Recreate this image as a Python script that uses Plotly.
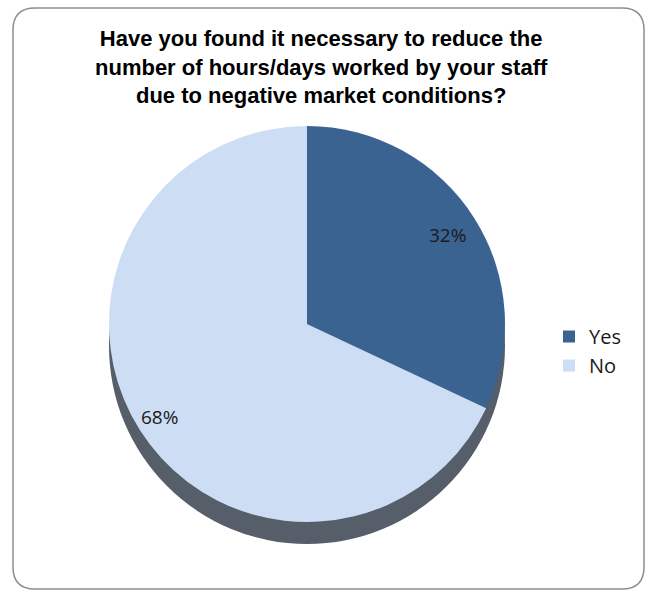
import math
import plotly.graph_objects as go

# Survey answers
labels = ["Yes", "No"]
shares = [32, 68]
colors = ["#3A6392", "#CCDDF4"]

title_lines = [
    "Have you found it necessary to reduce the",
    "number of hours/days worked by your staff",
    "due to negative market conditions?",
]

W, H = 645, 590

# Pie geometry in pixels
cx, cy, r = 307, 324, 198
depth = 22


def px(x):
    return x / W


def py(y):
    return 1 - y / H


fig = go.Figure()

fig.add_trace(go.Pie(
    labels=labels,
    values=shares,
    sort=False,
    direction="clockwise",
    rotation=0,
    marker=dict(colors=colors, line=dict(width=0)),
    textinfo="none",
    hoverinfo="label+percent",
    domain=dict(x=[px(cx - r), px(cx + r)], y=[py(cy + r), py(cy - r)]),
))

# Side wall of the tilted disc
fig.add_shape(
    type="circle", xref="paper", yref="paper", layer="below",
    x0=px(cx - r), x1=px(cx + r), y0=py(cy + r + depth), y1=py(cy - r + depth),
    fillcolor="#555E69", line=dict(width=0),
)

# Percentage labels placed along each slice's mid-angle
total = sum(shares)
start = 0.0
label_radius = [0.84, 0.88]
for v, frac in zip(shares, label_radius):
    mid = (start + v / 2) / total * 2 * math.pi
    lx = cx + frac * r * math.sin(mid)
    ly = cy - frac * r * math.cos(mid)
    fig.add_annotation(
        x=px(lx), y=py(ly), xref="paper", yref="paper",
        xanchor="center", yanchor="middle",
        text=f"{round(v / total * 100)}%", showarrow=False,
        font=dict(family="Open Sans, Noto Sans, sans-serif", size=19, color="#1A1A1A"),
    )
    start += v

# Title
fig.add_annotation(
    x=px(321), y=py(67), xref="paper", yref="paper",
    text="<b>" + "<br>".join(title_lines) + "</b>", showarrow=False,
    xanchor="center", yanchor="middle", align="center",
    font=dict(family="Liberation Sans, Arial, sans-serif", size=22, color="#000000"),
)

# Rounded chart frame
x0, y0, x1, y1, rc = 13, 8, 644, 589, 22
frame = (
    f"M {px(x0 + rc)} {py(y0)} L {px(x1 - rc)} {py(y0)} "
    f"Q {px(x1)} {py(y0)} {px(x1)} {py(y0 + rc)} "
    f"L {px(x1)} {py(y1 - rc)} Q {px(x1)} {py(y1)} {px(x1 - rc)} {py(y1)} "
    f"L {px(x0 + rc)} {py(y1)} Q {px(x0)} {py(y1)} {px(x0)} {py(y1 - rc)} "
    f"L {px(x0)} {py(y0 + rc)} Q {px(x0)} {py(y0)} {px(x0 + rc)} {py(y0)} Z"
)
fig.add_shape(type="path", xref="paper", yref="paper", path=frame,
              line=dict(color="#8E8E8E", width=1.5), layer="below")

fig.update_layout(
    width=W, height=H,
    margin=dict(l=0, r=0, t=0, b=0),
    paper_bgcolor="white",
    plot_bgcolor="white",
    showlegend=True,
    legend=dict(
        x=px(549), y=py(317), xanchor="left", yanchor="top",
        font=dict(family="Open Sans, Noto Sans, sans-serif", size=20, color="#1A1A1A"),
        bgcolor="rgba(0,0,0,0)",
    ),
)

fig.write_html("out.html")
